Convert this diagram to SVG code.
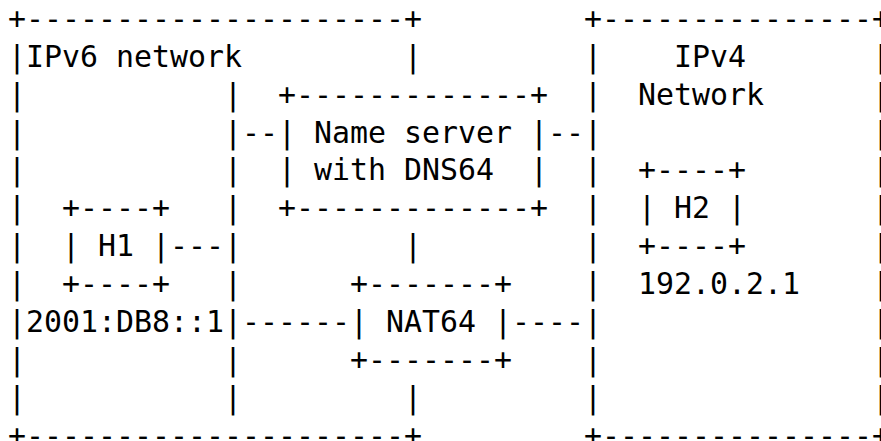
<svg xmlns="http://www.w3.org/2000/svg" width="881" height="441" viewBox="0 0 881 441" xml:space="preserve">
<style>
text { font-family: "DejaVu Sans Mono", "Liberation Mono", monospace; font-size: 29.9px; fill: #000; white-space: pre; }
</style>
<rect width="881" height="441" fill="#fff"/>
<g id="ipv6-network">
<text x="8" y="28.8">+---------------------+</text>
<text x="8" y="445.7">+---------------------+</text>
<text x="8 8 8 8 8 8 8 8 8 8" y="66.7 104.6 142.5 180.4 218.3 256.2 294.1 332 369.9 407.8">||||||||||</text>
<text x="404" y="66.7">|</text>
<text x="404" y="256.2">|</text>
<text x="404" y="407.8">|</text>
<text x="26" y="66.7">IPv6 network</text>
</g>
<g id="h1">
<text x="62" y="218.3">+----+</text>
<text x="62" y="256.2">| H1 |</text>
<text x="62" y="294.1">+----+</text>
<text x="26" y="332">2001:DB8::1</text>
</g>
<g id="name-server">
<text x="278" y="104.6">+-------------+</text>
<text x="278" y="142.5">| Name server |</text>
<text x="278" y="180.4">| with DNS64  |</text>
<text x="278" y="218.3">+-------------+</text>
</g>
<g id="nat64">
<text x="350" y="294.1">+-------+</text>
<text x="350" y="332">| NAT64 |</text>
<text x="350" y="369.9">+-------+</text>
</g>
<g id="ipv4-network">
<text x="584" y="28.8">+---------------+</text>
<text x="584" y="445.7">+---------------+</text>
<text x="584 584 584 584 584 584 584 584 584 584" y="66.7 104.6 142.5 180.4 218.3 256.2 294.1 332 369.9 407.8">||||||||||</text>
<text x="872 872 872 872 872 872 872 872 872 872" y="66.7 104.6 142.5 180.4 218.3 256.2 294.1 332 369.9 407.8">||||||||||</text>
<text x="674" y="66.7">IPv4</text>
<text x="638" y="104.6">Network</text>
</g>
<g id="h2">
<text x="638" y="180.4">+----+</text>
<text x="638" y="218.3">| H2 |</text>
<text x="638" y="256.2">+----+</text>
<text x="638" y="294.1">192.0.2.1</text>
</g>
<g id="connectors">
<text x="224 224 224 224 224 224 224 224 224" y="104.6 142.5 180.4 218.3 256.2 294.1 332 369.9 407.8">|||||||||</text>
<text x="242" y="142.5">--</text>
<text x="548" y="142.5">--</text>
<text x="170" y="256.2">---</text>
<text x="242" y="332">------</text>
<text x="512" y="332">----</text>
</g>
</svg>
